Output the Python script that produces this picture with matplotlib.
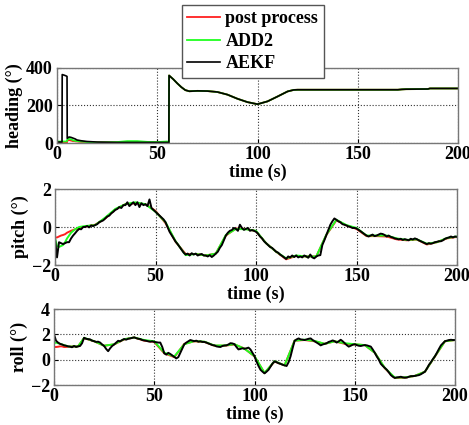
import numpy as np; import matplotlib.pyplot as plt

plt.rcParams['font.family'] = ['Liberation Serif', 'DejaVu Serif']
plt.rcParams['font.weight'] = 'bold'
plt.rcParams['axes.labelweight'] = 'bold'
plt.rcParams['font.size'] = 13

# ---------------- heading data ----------------
t_h = [0, 2.5, 2.6, 3.5, 4.5, 5.0, 5.1, 6, 7, 8, 9, 10, 12, 15, 20, 25, 30, 35, 40, 45,
       50, 55, 55.8, 55.9, 58, 60, 62, 64, 66, 70, 75, 80, 85, 90, 95, 100, 105, 110, 115, 118,
       120, 130, 140, 150, 160, 170, 172, 174, 185, 186, 200]
hdg_aekf = [5, 5, 365, 362, 358, 355, 25, 32, 30, 26, 22, 16, 12, 8, 5, 4, 3, 3, 3, 3,
            3, 3, 3, 360, 340, 318, 298, 282, 276, 278, 277, 272, 258, 236, 218, 207, 222, 248, 275, 283,
            284, 284, 284, 284, 284, 284, 286, 287, 288, 291, 291]
hdg_post = [3, 3, 3, 3, 3, 3, 12, 16, 13, 10, 9, 8, 6, 4, 3, 3, 3, 3, 3, 3,
            3, 3, 3, 360, 340, 318, 298, 282, 276, 278, 277, 272, 258, 236, 218, 207, 222, 248, 275, 283,
            284, 284, 284, 284, 284, 284, 286, 287, 288, 291, 291]
hdg_add2 = [8, 8, 8, 8, 8, 10, 18, 22, 20, 14, 12, 10, 8, 5, 3, 4, 5, 10, 10, 6,
            5, 8, 3, 360, 340, 318, 298, 282, 276, 278, 277, 272, 258, 236, 218, 207, 222, 248, 275, 283,
            284, 284, 284, 284, 284, 284, 286, 287, 288, 291, 291]

# ---------------- pitch / roll data (AEKF every second) ----------------
t_s = np.arange(0, 201)
pitch_aekf = [-0.6, -1.6, -0.8, -0.85, -0.9, -0.85, -0.8, -0.8, -0.6, -0.45,
              -0.33, -0.2, -0.1, -0.12, 0.0, 0.0, 0.05, -0.02, 0.08, 0.05,
              0.1, 0.15, 0.25, 0.3, 0.35, 0.45, 0.55, 0.6, 0.72, 0.8,
              0.9, 0.95, 1.05, 1.0, 1.15, 1.15, 1.3, 1.1, 1.2, 1.3,
              1.15, 1.3, 1.05, 1.25, 1.15, 1.2, 1.1, 1.45, 1.0, 0.9,
              0.8, 0.7, 0.6, 0.5, 0.4, 0.25, 0.0, -0.25, -0.42, -0.6,
              -0.77, -0.9, -1.05, -1.2, -1.35, -1.45, -1.4, -1.5, -1.38, -1.45,
              -1.4, -1.5, -1.45, -1.42, -1.5, -1.5, -1.55, -1.48, -1.58, -1.5,
              -1.4, -1.3, -1.1, -0.95, -0.7, -0.45, -0.3, -0.2, -0.16, -0.05,
              -0.1, -0.2, 0.12, -0.05, -0.15, -0.1, -0.05, -0.2, -0.16, -0.2,
              -0.25, -0.35, -0.5, -0.6, -0.75, -0.85, -0.95, -1.05, -1.1, -1.2,
              -1.3, -1.35, -1.45, -1.52, -1.6, -1.68, -1.55, -1.6, -1.5, -1.58,
              -1.5, -1.6, -1.55, -1.6, -1.5, -1.55, -1.62, -1.45, -1.6, -1.65,
              -1.55, -1.5, -1.48, -0.95, -0.7, -0.42, -0.15, 0.12, 0.3, 0.45,
              0.38, 0.3, 0.25, 0.15, 0.12, 0.08, 0.03, 0.0, -0.05, -0.05,
              -0.08, -0.15, -0.22, -0.3, -0.38, -0.45, -0.5, -0.45, -0.4, -0.48,
              -0.45, -0.4, -0.35, -0.37, -0.42, -0.5, -0.45, -0.52, -0.55, -0.6,
              -0.62, -0.65, -0.62, -0.68, -0.64, -0.67, -0.7, -0.62, -0.66, -0.6,
              -0.64, -0.7, -0.75, -0.8, -0.85, -0.9, -0.85, -0.88, -0.85, -0.8,
              -0.78, -0.75, -0.75, -0.7, -0.62, -0.58, -0.55, -0.5, -0.55, -0.5,
              -0.52]
roll_aekf = [2.0, 1.5, 1.35, 1.25, 1.2, 1.13, 1.1, 1.05, 1.03, 0.98,
             1.08, 1.0, 1.05, 1.08, 1.3, 1.73, 1.65, 1.62, 1.6, 1.5,
             1.46, 1.4, 1.42, 1.35, 1.2, 1.08, 0.85, 0.67, 0.9, 1.08,
             1.2, 1.35, 1.49, 1.45, 1.55, 1.63, 1.58, 1.65, 1.68, 1.72,
             1.76, 1.7, 1.65, 1.63, 1.55, 1.52, 1.49, 1.45, 1.42, 1.45,
             1.4, 1.38, 1.35, 1.35, 1.0, 0.5, 0.4, 0.54, 0.45, 0.33,
             0.2, 0.1, 0.2, 0.54, 0.9, 1.22, 1.35, 1.45, 1.55, 1.5,
             1.46, 1.5, 1.42, 1.45, 1.4, 1.4, 1.35, 1.28, 1.22, 1.15,
             1.13, 1.05, 1.02, 1.0, 1.08, 1.12, 1.13, 1.2, 1.3, 1.28,
             1.22, 1.0, 0.81, 0.85, 0.9, 0.86, 0.9, 0.95, 0.8, 0.54,
             0.27, -0.14, -0.5, -0.8, -0.95, -1.08, -0.95, -0.8, -0.55, -0.3,
             -0.14, -0.2, -0.28, -0.33, -0.4, -0.45, -0.5, -0.2, 0.27, 0.9,
             1.49, 1.6, 1.68, 1.6, 1.58, 1.55, 1.6, 1.65, 1.68, 1.55,
             1.45, 1.35, 1.25, 1.13, 1.2, 1.25, 1.3, 1.4, 1.45, 1.52,
             1.45, 1.35, 1.45, 1.57, 1.45, 1.3, 1.15, 1.03, 1.1, 1.18,
             1.22, 1.15, 1.1, 1.08, 1.12, 1.15, 1.13, 1.08, 1.03, 0.8,
             0.54, 0.25, 0.0, -0.33, -0.5, -0.65, -0.8, -1.0, -1.22, -1.35,
             -1.44, -1.4, -1.38, -1.35, -1.4, -1.42, -1.41, -1.35, -1.3, -1.3,
             -1.28, -1.25, -1.22, -1.15, -1.05, -0.95, -0.7, -0.41, -0.2, 0.05,
             0.27, 0.55, 0.85, 1.13, 1.3, 1.46, 1.5, 1.55, 1.57, 1.55,
             1.55]

# post process / ADD2 on a coarser time base
t_c = [0, 1, 2, 3, 4, 5, 6, 7, 8, 10, 12, 15, 20, 25, 30, 35, 40, 45, 50, 55, 60, 65, 70, 75,
       80, 85, 90, 95, 100, 105, 110, 115, 120, 125, 130, 135, 140, 145, 150, 155, 160, 165,
       170, 175, 180, 185, 190, 195, 200]
pitch_post = [-0.55, -0.55, -0.5, -0.45, -0.42, -0.38, -0.3, -0.25, -0.2, -0.12, -0.05, 0.02,
              0.12, 0.45, 0.92, 1.2, 1.25, 1.2, 0.85, 0.2, -0.78, -1.42, -1.42, -1.5,
              -1.4, -0.45, -0.08, -0.1, -0.22, -0.85, -1.3, -1.7, -1.52, -1.55, -1.55, -0.42,
              0.35, 0.08, -0.1, -0.48, -0.48, -0.5, -0.65, -0.7, -0.66, -0.92, -0.8, -0.6, -0.52]
pitch_add2 = [-0.6, -1.0, -1.05, -1.0, -0.95, -0.8, -0.6, -0.45, -0.3, -0.12, 0.0, 0.05,
              0.1, 0.5, 0.95, 1.2, 1.3, 1.2, 0.8, 0.25, -0.75, -1.48, -1.42, -1.5,
              -1.4, -0.42, -0.1, -0.12, -0.2, -0.85, -1.3, -1.65, -1.5, -1.55, -1.55, -0.4,
              0.38, 0.1, -0.05, -0.45, -0.45, -0.45, -0.6, -0.68, -0.65, -0.88, -0.8, -0.58, -0.5]
roll_post = [1.0, 1.0, 1.02, 1.05, 1.05, 1.0, 1.0, 1.02, 1.03, 1.05, 1.05, 1.7,
             1.45, 1.1, 1.2, 1.6, 1.75, 1.5, 1.4, 0.5, 0.2, 1.25, 1.45, 1.4,
             1.1, 1.1, 1.2, 0.88, 0.25, -1.05, -0.15, -0.45, 1.5, 1.55, 1.45, 1.25,
             1.45, 1.25, 1.2, 1.15, 0.55, -0.68, -1.45, -1.42, -1.28, -0.95, 0.25, 1.45, 1.55]
roll_add2 = [1.3, 1.35, 1.3, 1.25, 1.2, 1.15, 1.1, 1.05, 1.03, 1.05, 1.05, 1.72,
             1.46, 1.1, 1.22, 1.62, 1.75, 1.55, 1.45, 0.55, 0.25, 1.22, 1.47, 1.42,
             1.12, 1.12, 1.22, 0.86, 0.28, -1.05, -0.12, -0.45, 1.5, 1.58, 1.48, 1.25,
             1.45, 1.3, 1.22, 1.15, 0.55, -0.65, -1.42, -1.4, -1.28, -0.95, 0.27, 1.46, 1.55]

red = '#ff2020'; green = '#20ff20'

fig = plt.figure(figsize=(4.69, 4.25), dpi=100)
ax1 = fig.add_axes([57/469, 1-143/425, 401/469, 75/425])
ax2 = fig.add_axes([55/469, 1-265/425, 402/469, 76/425])
ax3 = fig.add_axes([54/469, 1-385/425, 401/469, 76/425])

ax1.plot(t_h, hdg_post, color=red, lw=1.3, label='post process')
ax1.plot(t_h, hdg_add2, color=green, lw=1.3, label='ADD2')
ax1.plot(t_h, hdg_aekf, color='k', lw=1.2, label='AEKF')
ax2.plot(t_c, pitch_post, color=red, lw=1.4)
ax2.plot(t_c, pitch_add2, color=green, lw=1.4)
ax2.plot(t_s, pitch_aekf, color='k', lw=1.4)
ax3.plot(t_c, roll_post, color=red, lw=1.4)
ax3.plot(t_c, roll_add2, color=green, lw=1.4)
ax3.plot(t_s, roll_aekf, color='k', lw=1.4)

ax1.set_ylim(0, 400); ax1.set_yticks([0, 200, 400]); ax1.set_ylabel('heading (°)', labelpad=2)
ax2.set_ylim(-2, 2); ax2.set_yticks([-2, 0, 2]); ax2.set_ylabel('pitch (°)', labelpad=2)
ax3.set_ylim(-2, 4); ax3.set_yticks([-2, 0, 2, 4]); ax3.set_ylabel('roll (°)', labelpad=2)

for ax in (ax1, ax2, ax3):
    ax.set_xlim(0, 200); ax.set_xticks([0, 50, 100, 150, 200])
    ax.set_xlabel('time (s)', labelpad=0)
    ax.grid(True, color='#333333', linestyle=':', linewidth=0.8)
    ax.tick_params(direction='in', length=3, labelsize=13)
    ax.tick_params(axis='x', pad=2.5)
    ax.tick_params(axis='y', pad=3)
    for s in ax.spines.values():
        s.set_color('#777777'); s.set_linewidth(1.0)

leg = ax1.legend(loc='upper left', bbox_to_anchor=(182/469, 1-5/425), bbox_transform=fig.transFigure,
                 fancybox=False, edgecolor='#555555', framealpha=1, borderaxespad=0,
                 handlelength=1.8, handletextpad=0.3, labelspacing=0.3, borderpad=0.3, fontsize=13)
leg.get_frame().set_linewidth(1.0)

fig.savefig('out.png', dpi=100)
